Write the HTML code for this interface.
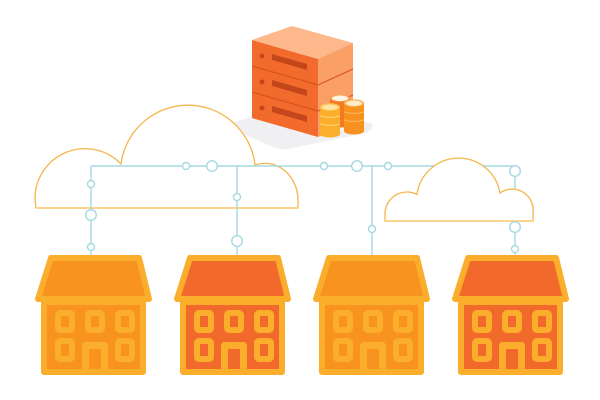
<!DOCTYPE html>
<html><head><meta charset="utf-8"><style>
html,body{margin:0;padding:0;background:#fff;}
svg{display:block;}
</style></head><body>
<svg width="600" height="400" viewBox="0 0 600 400" xmlns="http://www.w3.org/2000/svg">
<defs>
<g id="house">
  <path d="M51,258 L139,258 L149,299 L38,299 Z" fill="currentColor" stroke="#FBAD2C" stroke-width="6" stroke-linejoin="round"/>
  <rect x="44" y="302" width="99" height="70" fill="currentColor" stroke="#FBAD2C" stroke-width="6" stroke-linejoin="round"/>
  <g fill="none" stroke="#FBAD2C" stroke-width="6">
    <rect x="58" y="313" width="14" height="17" rx="2"/>
    <rect x="88" y="313" width="14" height="17" rx="2"/>
    <rect x="118" y="313" width="14" height="17" rx="2"/>
    <rect x="58" y="341" width="14" height="18" rx="2"/>
    <rect x="118" y="341" width="14" height="18" rx="2"/>
  </g>
  <path d="M85.5,372 V345.5 H104.5 V372" fill="none" stroke="#FBAD2C" stroke-width="7" stroke-linejoin="round"/>
</g>
</defs>

<!-- server shadow -->
<path d="M224,126 L300,100 L372,124 Q374,130 366,133 L288,149 Q282,150 276,148 Z" fill="#F0F0F2"/>

<!-- cloud 1 -->
<path d="M36,208 L35,199 A50,50 0 0 1 121,164 A67.5,67.5 0 0 1 255,165 A33,37 0 0 1 298,200 L298,208 Z" fill="#fff" stroke="#F4B64A" stroke-width="1.3"/>
<line x1="36" y1="208" x2="298" y2="208" stroke="#FCD48A" stroke-width="2"/>

<!-- server -->
<polygon points="252,40 292,26 353,43 318,59" fill="#FDB98B"/>
<polygon points="252,40 318,59 318,137 252,118" fill="#F26B2D"/>
<polygon points="318,59 353,43 353,121 318,137" fill="#FA9F66"/>
<g stroke="#D4561E" stroke-width="1.2">
  <line x1="252" y1="66" x2="318" y2="85"/>
  <line x1="252" y1="92" x2="318" y2="111"/>
  <line x1="318" y1="85" x2="353" y2="69"/>
  <line x1="318" y1="111" x2="353" y2="95"/>
</g>
<g fill="#C4471C">
  <circle cx="262" cy="56" r="2.5"/>
  <polygon points="272,54 307,64 307,70 272,60"/>
  <circle cx="262" cy="82" r="2.5"/>
  <polygon points="272,80 307,90 307,96 272,86"/>
  <circle cx="262" cy="108" r="2.5"/>
  <polygon points="272,106 307,116 307,122 272,112"/>
</g>

<!-- coins: back -->
<g>
  <rect x="330" y="98" width="20" height="26" fill="#F37A22"/>
  <ellipse cx="340" cy="124" rx="10" ry="3.5" fill="#F37A22"/>
  <ellipse cx="340" cy="98" rx="10" ry="3.8" fill="#F8A25E"/>
  <ellipse cx="340" cy="98.3" rx="8" ry="2.8" fill="#FFF3E2"/>
</g>
<!-- coins: right -->
<g>
  <rect x="344" y="103" width="20" height="28" fill="#F7921E"/>
  <ellipse cx="354" cy="131" rx="10" ry="3.5" fill="#F7921E"/>
  <g stroke="#FBB65E" stroke-width="1" fill="none">
    <path d="M344,112 Q354,115 364,112"/>
    <path d="M344,120 Q354,123 364,120"/>
  </g>
  <ellipse cx="354" cy="103" rx="10" ry="3.8" fill="#FBB35A"/>
  <ellipse cx="354" cy="103.3" rx="8" ry="2.8" fill="#FFEBC8"/>
</g>
<!-- coins: front -->
<g>
  <rect x="320" y="107" width="20" height="27" fill="#FBAF2C"/>
  <ellipse cx="330" cy="134" rx="10" ry="3.5" fill="#FBAF2C"/>
  <g stroke="#FDD07A" stroke-width="1" fill="none">
    <path d="M320,116 Q330,119 340,116"/>
    <path d="M320,124 Q330,127 340,124"/>
  </g>
  <ellipse cx="330" cy="107" rx="10" ry="3.8" fill="#FDC552"/>
  <ellipse cx="330" cy="107.3" rx="8" ry="2.8" fill="#FFE3A0"/>
</g>

<!-- connector lines -->
<g stroke="#A6D8E3" stroke-width="1.4" fill="none">
  <line x1="91" y1="166" x2="515" y2="166"/>
  <line x1="91" y1="166" x2="91" y2="257"/>
  <line x1="237" y1="166" x2="237" y2="257"/>
  <line x1="372" y1="166" x2="372" y2="257"/>
  <line x1="515" y1="166" x2="515" y2="257"/>
</g>

<!-- cloud 2 (on top of lines) -->
<path d="M385,221 L385,214 A22,22 0 0 1 417,194.4 A42,42 0 0 1 500,193 A21,21 0 0 1 533,213 L533,221 Z" fill="#fff" stroke="#F4B64A" stroke-width="1.3"/>
<line x1="385" y1="221" x2="533" y2="221" stroke="#FCD48A" stroke-width="2"/>

<!-- connector nodes -->
<g stroke="#A6D8E3" stroke-width="1.4" fill="#fff">
  <circle cx="91" cy="184" r="3.5"/>
  <circle cx="91" cy="247" r="3.5"/>
  <circle cx="186" cy="166" r="3.5"/>
  <circle cx="237" cy="197" r="3.5"/>
  <circle cx="324" cy="166" r="3.5"/>
  <circle cx="388" cy="166" r="3.5"/>
  <circle cx="372" cy="229" r="3.5"/>
  <circle cx="515" cy="249" r="3.5"/>
  <circle cx="91" cy="215" r="5.3"/>
  <circle cx="212" cy="166" r="5.3"/>
  <circle cx="237" cy="241" r="5.3"/>
  <circle cx="357" cy="166" r="5.3"/>
  <circle cx="515" cy="171" r="5.3"/>
  <circle cx="515" cy="227" r="5.3"/>
</g>

<!-- houses -->
<use href="#house" x="0" y="0" style="color:#F7931E"/>
<use href="#house" x="139" y="0" style="color:#F26A2B"/>
<use href="#house" x="278" y="0" style="color:#F7931E"/>
<use href="#house" x="417" y="0" style="color:#F26A2B"/>
</svg>
</body></html>
